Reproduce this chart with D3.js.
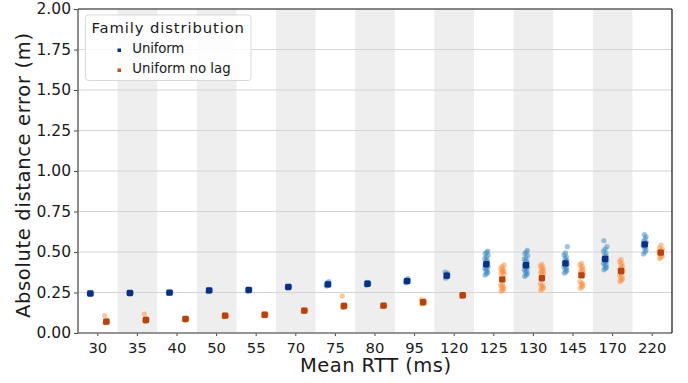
<!DOCTYPE html>
<html><head><meta charset="utf-8">
<script src="https://cdn.jsdelivr.net/npm/d3@7"></script>
<style>body{margin:0;background:#fff}svg{display:block;font-family:"DejaVu Sans",sans-serif}</style>
</head><body><svg id="c" width="688" height="383"></svg>
<script>
const categories = ["30","35","40","50","55","70","75","80","95","120","125","130","145","170","220"];
const yTicks = [0,0.25,0.5,0.75,1.0,1.25,1.5,1.75,2.0];
const seriesNames = ["Uniform","Uniform no lag"];
const uniformMean = [0.244,0.247,0.249,0.263,0.265,0.284,0.300,0.304,0.320,0.354,0.424,0.418,0.430,0.457,0.547];
const noLagMean = [0.070,0.080,0.086,0.107,0.113,0.138,0.167,0.169,0.190,0.233,0.331,0.338,0.356,0.383,0.496];
const uniformRuns = [
  [0.242,0.244,0.246,0.245,0.243],
  [0.245,0.247,0.249,0.248,0.246],
  [0.247,0.249,0.251,0.250,0.248],
  [0.256,0.260,0.264,0.268,0.262],
  [0.260,0.264,0.268,0.270,0.266],
  [0.280,0.284,0.288,0.286,0.282],
  [0.290,0.296,0.302,0.310,0.318,0.300],
  [0.295,0.300,0.306,0.312,0.304],
  [0.310,0.316,0.322,0.330,0.336,0.320],
  [0.338,0.346,0.354,0.362,0.370,0.376,0.350],
  [0.358,0.366,0.374,0.382,0.390,0.398,0.405,0.412,0.420,0.428,0.436,0.444,0.452,0.460,0.470,0.480,0.490,0.498,0.506],
  [0.350,0.358,0.366,0.374,0.382,0.390,0.398,0.406,0.414,0.422,0.430,0.438,0.446,0.456,0.466,0.478,0.490,0.500,0.510],
  [0.370,0.378,0.386,0.394,0.402,0.410,0.418,0.426,0.434,0.442,0.450,0.460,0.470,0.482,0.494,0.533],
  [0.390,0.398,0.406,0.414,0.422,0.430,0.438,0.446,0.454,0.462,0.470,0.480,0.492,0.505,0.518,0.533,0.570],
  [0.488,0.500,0.512,0.524,0.534,0.542,0.550,0.558,0.566,0.580,0.594,0.607]
];
const noLagRuns = [
  [0.062,0.066,0.070,0.074,0.078,0.107],
  [0.072,0.076,0.080,0.084,0.088,0.117],
  [0.080,0.084,0.088,0.090,0.086],
  [0.100,0.104,0.108,0.112,0.106],
  [0.106,0.110,0.114,0.118,0.112],
  [0.132,0.136,0.140,0.144,0.138],
  [0.158,0.162,0.166,0.170,0.174,0.228],
  [0.162,0.166,0.170,0.174,0.168],
  [0.180,0.186,0.190,0.194,0.200,0.206],
  [0.226,0.230,0.234,0.238,0.232],
  [0.258,0.265,0.272,0.280,0.288,0.295,0.302,0.362,0.368,0.374,0.380,0.386,0.393,0.400,0.410,0.420],
  [0.265,0.272,0.280,0.288,0.296,0.304,0.362,0.368,0.374,0.382,0.390,0.398,0.406,0.414,0.424],
  [0.276,0.284,0.292,0.300,0.308,0.316,0.360,0.368,0.376,0.384,0.392,0.400,0.410,0.420,0.430],
  [0.317,0.325,0.333,0.341,0.350,0.360,0.370,0.380,0.390,0.400,0.410,0.420,0.430,0.442,0.455],
  [0.460,0.468,0.476,0.484,0.492,0.500,0.508,0.516,0.526,0.543]
];

const svg = d3.select("#c");
const m = {l:78, r:672, t:9, b:333};
const x = d3.scaleBand().domain(categories).range([m.l, m.r]).padding(0);
const y = d3.scaleLinear().domain([0,2]).range([m.b, m.t]);
const bw = x.bandwidth();

// shaded bands
svg.append("g").selectAll("rect").data(categories.filter((d,i)=>i%2===1)).join("rect")
  .attr("x", d=>x(d)).attr("y", m.t).attr("width", bw).attr("height", m.b-m.t).attr("fill","#eeeeee");

// grid
svg.append("g").selectAll("line").data(yTicks).join("line")
  .attr("x1", m.l).attr("x2", m.r).attr("y1", d=>y(d)).attr("y2", d=>y(d))
  .attr("stroke","#d4d4d4").attr("stroke-width",1);

const offs = [-7.5, 8.5];
const jit = [-1.2, 0.4, 1.4, -0.4, 0.9, -1.6, 0.0, 1.8];
const lightCol = ["#3a89c4","#fd8d3c"];
const meanCol = ["#0a2f86","#b8420c"];
const runs = [uniformRuns, noLagRuns];
const means = [uniformMean, noLagMean];

[0,1].forEach(s=>{
  const pts = [];
  runs[s].forEach((arr,ci)=>arr.forEach((v,k)=>pts.push({c:categories[ci], v, k})));
  svg.append("g").selectAll("circle").data(pts).join("circle")
    .attr("cx", d=>x(d.c)+bw/2+offs[s]+jit[d.k%jit.length])
    .attr("cy", d=>y(d.v)).attr("r",2.6)
    .attr("fill", lightCol[s]).attr("fill-opacity", 0.5);
});
[0,1].forEach(s=>{
  svg.append("g").selectAll("rect").data(means[s]).join("rect")
    .attr("x",(d,i)=>x(categories[i])+bw/2+offs[s]-3.2)
    .attr("y", d=>y(d)-3.2).attr("width",6.4).attr("height",6.4).attr("rx",1.4)
    .attr("fill", meanCol[s]);
});

// axes
const ya = svg.append("g").attr("transform",`translate(${m.l},0)`)
  .call(d3.axisLeft(y).tickValues(yTicks).tickFormat(d3.format(".2f")).tickSize(4).tickPadding(3));
ya.select(".domain").remove();
ya.selectAll("text").attr("font-size","15.5px").attr("fill","#1a1a1a").attr("font-family","DejaVu Sans");
ya.selectAll("line").attr("stroke","#444");
const xa = svg.append("g").attr("transform",`translate(0,${m.b})`)
  .call(d3.axisBottom(x).tickSize(3).tickPadding(6));
xa.select(".domain").remove();
xa.selectAll("text").attr("font-size","14.8px").attr("fill","#1a1a1a").attr("font-family","DejaVu Sans");
xa.selectAll("line").attr("stroke","#444");

// frame
svg.append("line").attr("x1",m.l).attr("x2",m.l).attr("y1",m.t).attr("y2",m.b).attr("stroke","#666").attr("stroke-width",1.5);
svg.append("line").attr("x1",m.l).attr("x2",m.r).attr("y1",m.b).attr("y2",m.b).attr("stroke","#777").attr("stroke-width",1.5);
svg.append("line").attr("x1",m.l).attr("x2",m.r).attr("y1",m.t).attr("y2",m.t).attr("stroke","#222").attr("stroke-width",1.2);
svg.append("line").attr("x1",m.r).attr("x2",m.r).attr("y1",m.t).attr("y2",m.b).attr("stroke","#111").attr("stroke-width",1.2);

// labels
svg.append("text").attr("x",375.5).attr("y",372).attr("text-anchor","middle")
  .attr("font-size","19.5px").attr("fill","#1a1a1a")
  .attr("textLength",151).attr("lengthAdjust","spacing").text("Mean RTT (ms)");
svg.append("text").attr("transform",`translate(30,175.5) rotate(-90)`).attr("text-anchor","middle")
  .attr("font-size","19.5px").attr("fill","#1a1a1a")
  .attr("textLength",285).attr("lengthAdjust","spacing").text("Absolute distance error (m)");

// legend
const lg = svg.append("g");
lg.append("rect").attr("x",85.5).attr("y",15).attr("width",165.5).attr("height",65.5).attr("rx",3)
  .attr("fill","#fff").attr("fill-opacity",0.85).attr("stroke","#d8d8d8");
lg.append("text").attr("x",91.5).attr("y",33.3).attr("font-size","14.8px").attr("fill","#1a1a1a")
  .attr("textLength",152.5).attr("lengthAdjust","spacing").text("Family distribution");
const legCol = ["#0a2f86","#c4501c"];
const legLen = [52, 98.4];
seriesNames.forEach((n,i)=>{
  lg.append("rect").attr("x",117.5).attr("y",48.5+i*20).attr("width",3.5).attr("height",3.5).attr("fill",legCol[i]);
  lg.append("text").attr("x",132.3).attr("y",53.3+i*20).attr("font-size","13.3px").attr("fill","#1a1a1a")
    .attr("textLength",legLen[i]).attr("lengthAdjust","spacing").text(n);
});
</script></body></html>
